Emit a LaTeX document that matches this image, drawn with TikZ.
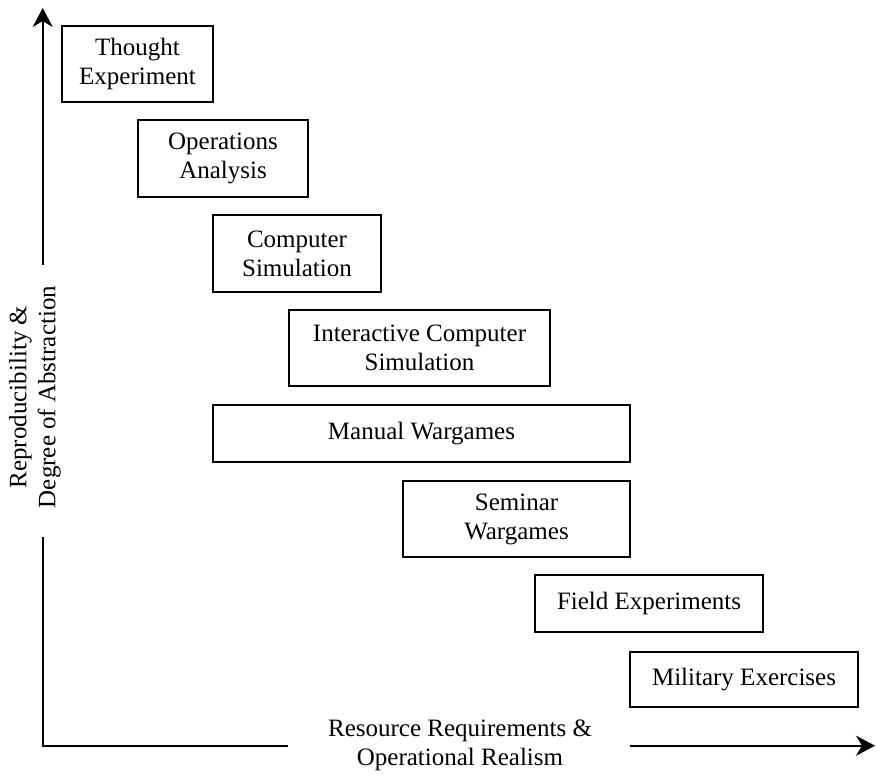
\documentclass[tikz,border=0pt]{standalone}
\usepackage{fontspec}
\setmainfont{Liberation Serif}
\usetikzlibrary{arrows.meta}

\begin{document}
\begin{tikzpicture}[x=0.5pt, y=-0.5pt]
	\tikzstyle{every node}=[font=\fontsize{12.5}{14.5}\selectfont, align=center, inner sep=0pt]
	\tikzstyle{stage}=[draw=black, rectangle, line width=.9pt]
	\tikzstyle{axis}=[line width=.9pt]
	\useasboundingbox (0,0) rectangle (876,775);
	\path (137.5,64)  node[stage, minimum width=75.5pt, minimum height=38pt]   (thought)  {Thought\\Experiment};
	\path (223,158.5) node[stage, minimum width=85pt, minimum height=38.5pt]   (ops)      {Operations\\Analysis};
	\path (297,253.5) node[stage, minimum width=84pt, minimum height=38.5pt]   (compsim)  {Computer\\Simulation};
	\path (419.5,348) node[stage, minimum width=130.5pt, minimum height=38pt]  (intsim)   {Interactive Computer\\Simulation};
	\path (421.5,433.5) node[stage, minimum width=208.5pt, minimum height=28.5pt] (manual) {Manual Wargames};
	\path (516.5,519) node[stage, minimum width=113.5pt, minimum height=38pt]  (seminar)  {Seminar\\Wargames};
	\path (649,603.5) node[stage, minimum width=114pt, minimum height=28.5pt]  (field)    {Field Experiments};
	\path (744,679.5) node[stage, minimum width=114pt, minimum height=27.5pt]  (military) {Military Exercises};
	\path (35,397) node[rotate=90] (ylabel) {Reproducibility \&\\Degree of Abstraction};
	\path (460,745) node (xlabel) {Resource Requirements \&\\Operational Realism};
	\coordinate (origin) at (42.7,745.7);
	\coordinate (ygapbot) at (42.7,537);
	\coordinate (ygaptop) at (42.7,265);
	\coordinate (ytip) at (42.7,8);
	\coordinate (xgapl) at (288,745.7);
	\coordinate (xgapr) at (630,745.7);
	\coordinate (xtip) at (875,745.7);
	\draw[axis] (ygapbot) -- (origin) -- (xgapl);
	\draw[axis, -{Stealth[length=9.5pt, width=10pt, inset=3pt]}] (ygaptop) -- (ytip);
	\draw[axis, -{Stealth[length=9.5pt, width=10pt, inset=3pt]}] (xgapr) -- (xtip);
\end{tikzpicture}
\end{document}
